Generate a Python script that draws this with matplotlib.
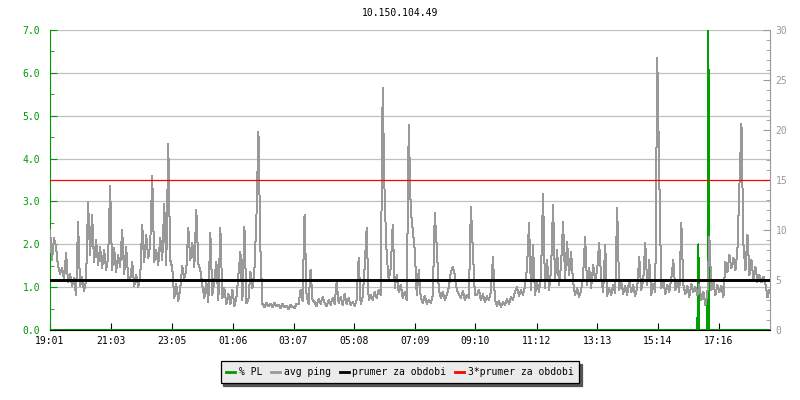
import matplotlib
matplotlib.use('Agg')
import matplotlib.pyplot as plt
import numpy as np
from matplotlib.lines import Line2D
from matplotlib.ticker import MultipleLocator, FormatStrFormatter

plt.rcParams['font.family'] = ['DejaVu Sans Mono']

title = '10.150.104.49'

# avg ping [ms], one sample every 4 minutes, starting 19:01
ping = [
    10.0, 7.0, 9.2, 8.3, 6.4, 5.6, 6.2, 5.0, 7.7, 4.8,
    5.6, 4.4, 5.2, 3.5, 10.8, 4.4, 5.3, 3.9, 5.0, 12.8,
    7.5, 11.5, 6.8, 9.0, 6.5, 8.3, 6.2, 8.0, 6.0, 7.2,
    14.4, 6.0, 8.2, 5.8, 7.5, 6.3, 10.0, 5.6, 8.3, 5.2,
    5.0, 6.8, 4.4, 5.5, 4.3, 5.2, 10.5, 6.8, 9.5, 7.2,
    8.5, 15.4, 6.8, 8.0, 6.5, 9.2, 7.0, 12.6, 6.5, 18.6,
    7.0, 6.2, 3.2, 4.6, 2.9, 4.2, 6.4, 5.2, 6.0, 10.2,
    7.0, 8.7, 6.3, 12.0, 6.6, 6.0, 4.5, 3.2, 4.8, 2.8,
    9.7, 3.5, 5.0, 6.8, 3.0, 10.2, 3.2, 4.2, 2.6, 3.6,
    2.6, 4.0, 2.4, 3.2, 5.5, 7.8, 3.0, 10.3, 2.7, 3.0,
    5.8, 4.2, 6.0, 11.3, 19.8, 8.0, 2.6, 2.3, 2.7, 2.4,
    2.6, 2.3, 2.7, 2.4, 2.5, 2.2, 2.6, 2.3, 2.4, 2.1,
    2.5, 2.3, 2.2, 2.6, 2.6, 4.0, 2.9, 11.5, 3.5, 2.6,
    6.0, 3.0, 2.8, 2.4, 3.1, 2.6, 3.3, 2.7, 2.4, 3.0,
    2.5, 3.2, 2.6, 4.8, 2.7, 3.3, 2.5, 3.6, 2.6, 3.2,
    2.5, 2.8, 2.4, 3.0, 7.2, 2.6, 3.3, 6.3, 10.2, 3.0,
    3.5, 3.0, 3.8, 3.2, 4.0, 3.5, 24.2, 13.0, 7.5, 5.0,
    6.2, 10.5, 4.2, 5.5, 3.8, 4.5, 3.2, 3.8, 3.0, 20.5,
    12.0, 10.0, 8.0, 3.5, 6.0, 3.2, 2.7, 3.4, 2.6, 3.0,
    2.7, 3.5, 11.7, 8.2, 4.0, 3.2, 3.8, 3.0, 3.5, 4.3,
    5.8, 6.3, 5.5, 4.0, 3.6, 3.2, 3.9, 3.0, 3.5, 3.2,
    12.3, 8.0, 3.5, 3.5, 4.0, 3.0, 3.6, 2.8, 3.4, 3.0,
    3.8, 7.3, 3.0, 2.4, 2.9, 2.3, 2.8, 2.5, 3.1, 2.6,
    3.3, 3.0, 3.8, 4.3, 3.4, 4.0, 3.5, 4.4, 6.2, 10.7,
    4.0, 8.5, 3.5, 4.8, 3.8, 5.5, 13.6, 4.2, 7.0, 4.0,
    6.0, 12.5, 5.0, 8.0, 4.5, 6.5, 10.8, 5.2, 8.8, 5.5,
    7.8, 4.8, 3.5, 4.2, 3.3, 4.0, 5.5, 9.3, 4.5, 6.2,
    4.2, 6.5, 5.0, 6.0, 8.7, 5.2, 3.8, 8.5, 3.4, 4.2,
    3.5, 4.5, 3.7, 12.2, 4.0, 4.8, 3.6, 4.4, 3.5, 5.0,
    3.8, 4.5, 3.4, 4.2, 7.3, 4.0, 5.0, 8.7, 4.5, 7.0,
    3.5, 4.6, 3.8, 27.2, 15.3, 4.2, 5.0, 3.6, 4.5, 3.8,
    5.2, 7.0, 4.0, 5.0, 3.8, 10.7, 4.5, 3.6, 4.4, 3.3,
    4.6, 3.8, 4.3, 3.5, 4.5, 3.0, 3.8, 2.5, 3.6, 9.3,
    4.0, 4.8, 3.5, 4.5, 3.8, 4.4, 3.3, 6.8, 5.8, 7.5,
    6.2, 7.2, 6.0, 8.0, 14.5, 20.6, 8.5, 6.0, 9.5, 5.5,
    7.0, 5.0, 6.3, 4.8, 5.5, 4.8, 5.3, 4.6, 3.3, 4.0,
    3.5,
]
ping_step = 4  # minutes between samples

# packet loss [%], minutes since 19:01
pl_time = [0, 1292, 1294, 1296, 1312, 1314, 1316, 1437]
pl_value = [0, 0, 2.0, 0, 0, 7.0, 0, 0]

prumer = 5.0        # average ping for the period [ms]
prumer3 = 15.0      # 3 * average

tick_pos = [0, 122, 244, 365, 486, 607, 728, 849, 971, 1092, 1213, 1335]
tick_labels = ['19:01', '21:03', '23:05', '01:06', '03:07', '05:08',
               '07:09', '09:10', '11:12', '13:13', '15:14', '17:16']

GREEN = '#009900'
GREY = '#999999'
GRID = '#c0c0c0'
FS = 7

fig = plt.figure(figsize=(8, 4), dpi=100)
ax = fig.add_axes([50 / 800, 70 / 400, 720 / 800, 300 / 400])
ax2 = ax.twinx()

t = np.arange(len(ping)) * ping_step

# packet loss on left axis, under everything else
ax.plot(pl_time, pl_value, color='#00a000', lw=0.72, antialiased=False, zorder=3)
ax2.plot(t, ping, color=GREY, lw=0.72, antialiased=False, zorder=2)
ax2.axhline(prumer, color='black', lw=2.1, zorder=3)
ax2.axhline(prumer3, color='#ff0000', lw=0.9, zorder=3)

ax.set_xlim(0, 1437)
ax.set_ylim(0, 7)
ax2.set_ylim(0, 30)

ax.set_xticks(tick_pos)
ax.set_xticklabels(tick_labels)
ax.yaxis.set_major_locator(MultipleLocator(1))
ax.yaxis.set_minor_locator(MultipleLocator(0.5))
ax.yaxis.set_major_formatter(FormatStrFormatter('%.1f'))
ax2.yaxis.set_major_locator(MultipleLocator(5))
ax2.yaxis.set_minor_locator(MultipleLocator(1))

ax.yaxis.grid(True, color=GRID, lw=0.9)
ax.set_axisbelow(True)

ax.tick_params(axis='y', which='both', direction='in', colors=GREEN, labelsize=FS, pad=7)
ax.tick_params(axis='y', which='major', length=5)
ax.tick_params(axis='y', which='minor', length=3)
ax.tick_params(axis='x', direction='in', length=5, colors='black', labelsize=FS, pad=4)
ax2.tick_params(axis='y', which='both', direction='in', colors=GREY, labelsize=FS, pad=4)
ax2.tick_params(axis='y', which='major', length=5)
ax2.tick_params(axis='y', which='minor', length=3)

for s in ['top', 'right']:
    ax.spines[s].set_visible(False)
ax.spines['left'].set_color(GREEN)
ax.spines['bottom'].set_visible(False)
for s in ['top', 'left']:
    ax2.spines[s].set_visible(False)
ax2.spines['right'].set_color(GREY)
ax2.spines['bottom'].set_color('black')
ax2.spines['bottom'].set_zorder(5)

fig.text(0.5, 1 - 13 / 400, title, ha='center', va='center', fontsize=FS)

handles = [Line2D([], [], color=GREEN, lw=2),
           Line2D([], [], color=GREY, lw=2),
           Line2D([], [], color='black', lw=2),
           Line2D([], [], color='#ff0000', lw=2)]
labels = ['% PL', 'avg ping', 'prumer za obdobi', '3*prumer za obdobi']
leg = fig.legend(handles, labels, loc='center', bbox_to_anchor=(0.5, 1 - 372 / 400),
                 ncol=4, fontsize=FS, frameon=True, fancybox=False,
                 shadow={'color': '#555555', 'alpha': 1.0},
                 handlelength=0.9, handletextpad=0.4, columnspacing=0.9,
                 borderpad=0.6, borderaxespad=0)
leg.get_frame().set_facecolor('#ebebeb')
leg.get_frame().set_edgecolor('black')
leg.get_frame().set_linewidth(0.9)
leg.get_frame().set_alpha(1.0)

fig.savefig('out.png', dpi=100)
